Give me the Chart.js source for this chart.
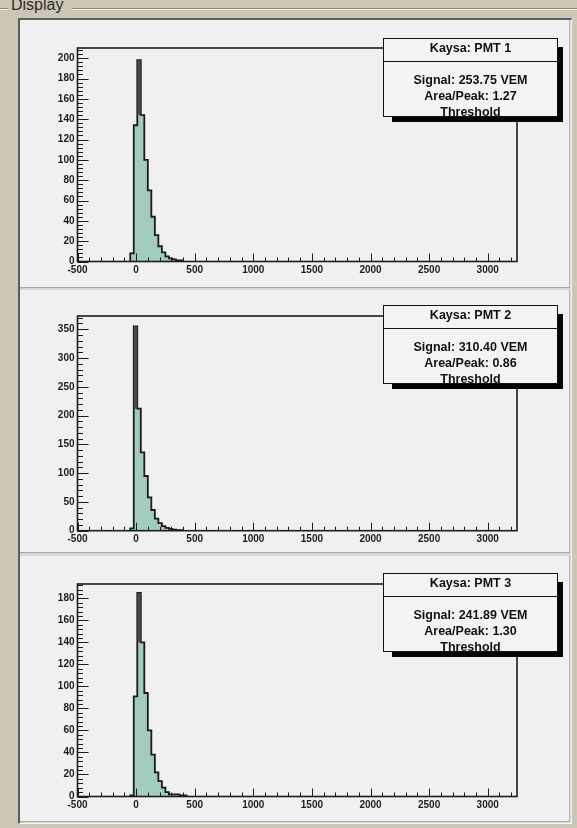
<!DOCTYPE html>
<html>
<head>
<meta charset="utf-8">
<script src="https://cdn.jsdelivr.net/npm/chart.js@4.4.0/dist/chart.umd.min.js"></script>
<style>
html,body{margin:0;padding:0;}
body{width:577px;height:828px;background:#cdc6b6;position:relative;overflow:hidden;font-family:"Liberation Sans",Arial,sans-serif;}
#groupTitle{position:absolute;left:9px;top:-5px;font-size:16px;color:#2b2b2b;background:#cdc6b6;padding:0 2px;line-height:20px;z-index:2;}
.groupline{position:absolute;top:8px;height:0;border-top:1px solid #8e8778;border-bottom:1px solid #f3efe6;}
#frame{position:absolute;left:18px;top:18px;width:554px;height:806px;background:#d6d6d6;border-top:2px solid #5c5c5c;border-left:2px solid #5c5c5c;border-right:1px solid #f6f6f6;border-bottom:1px solid #f6f6f6;box-sizing:border-box;}
.panel{position:absolute;left:20px;width:550px;background:#f0f0f0;border-bottom:1px solid #a8a8a8;border-right:1px solid #b8b8b8;box-sizing:border-box;overflow:hidden;}
.panel canvas{position:absolute;left:0;top:0;}
.shadow{position:absolute;background:#050505;}
.stats{position:absolute;width:175px;height:79px;background:#f3f3f3;border:1px solid #111;box-sizing:border-box;overflow:hidden;color:#111;font-weight:bold;font-size:12.5px;text-align:center;}
.stats .ttl{height:22px;line-height:19px;border-bottom:1px solid #111;}
.stats .body{padding-top:10px;}
.stats .body div{line-height:16px;}
</style>
</head>
<body>
<div class="groupline" style="left:0;width:8px"></div>
<div class="groupline" style="left:72px;width:505px"></div>
<div id="groupTitle">Display</div>
<div id="frame"></div>
<div id="panels"></div>
<script>
// ---------- data ----------
const binStart = -50;
const binWidth = 30;
const pmt1Counts = [8, 134, 198, 144, 100, 70, 44, 26, 15, 9, 5, 3, 2, 1, 1];
const pmt2Counts = [4, 355, 212, 136, 95, 58, 36, 21, 13, 8, 5, 3, 2, 1, 1];
const pmt3Counts = [1, 91, 185, 140, 94, 60, 38, 22, 14, 8, 4, 2, 2, 2, 1, 1];

const xRange = [-500, 3250];
const xTickValues = [-500, 0, 500, 1000, 1500, 2000, 2500, 3000];
const yMaxes = [210, 373, 193];
const yTickValues = [
  [0, 20, 40, 60, 80, 100, 120, 140, 160, 180, 200],
  [0, 50, 100, 150, 200, 250, 300, 350],
  [0, 20, 40, 60, 80, 100, 120, 140, 160, 180]
];

const titles = ["Kaysa: PMT 1", "Kaysa: PMT 2", "Kaysa: PMT 3"];
const signals = ["253.75", "310.40", "241.89"];
const areaPeak = ["1.27", "0.86", "1.30"];
const statsFooter = "Threshold";

// ---------- layout (page pixels) ----------
const panelTops = [20, 290, 556];
const panelHeights = [268, 263, 266];
const frameTopRel = [28, 26, 28];
const axisRel = [241.5, 240.7, 240.5];
const statsTopRel = [18, 15, 17];

const countsList = [pmt1Counts, pmt2Counts, pmt3Counts];

function histPoints(counts) {
  const pts = [{x: binStart, y: 0}];
  counts.forEach((c, i) => pts.push({x: binStart + i * binWidth, y: c}));
  pts.push({x: binStart + counts.length * binWidth, y: 0});
  return pts;
}
function peakShade(counts) {
  let k = 0;
  counts.forEach((c, i) => { if (c > counts[k]) k = i; });
  const floor = Math.max(counts[k - 1] || 0, counts[k + 1] || 0);
  return {pts: [{x: binStart + k * binWidth, y: counts[k]}, {x: binStart + (k + 1) * binWidth, y: counts[k]}], floor};
}

function drawTicks(ctx, a, scale, values, horizontal, majorLen, minorLen) {
  const nMinor = 5;
  const step = values[1] - values[0];
  const minor = step / nMinor;
  const lo = horizontal ? scale.min : 0;
  const start = values[0] - Math.floor((values[0] - lo) / minor + 1e-9) * minor;
  for (let i = 0; start + i * minor <= scale.max + 1e-9; i++) {
    const v = start + i * minor;
    const isMajor = Math.abs(((v - values[0]) / step) - Math.round((v - values[0]) / step)) < 1e-6;
    const len = isMajor ? majorLen : minorLen;
    ctx.beginPath();
    if (horizontal) {
      const px = Math.round(scale.getPixelForValue(v)) + 0.5;
      ctx.moveTo(px, a.bottom); ctx.lineTo(px, a.bottom - len);
    } else {
      const py = Math.round(scale.getPixelForValue(v)) + 0.5;
      ctx.moveTo(a.left, py); ctx.lineTo(a.left + len, py);
    }
    ctx.stroke();
  }
}

const rootAxes = {
  id: 'rootAxes',
  afterDatasetsDraw(chart) {
    const {ctx, chartArea: a, scales: {x, y}} = chart;
    ctx.save();
    ctx.strokeStyle = '#1c1c1c';
    ctx.lineWidth = 1;
    drawTicks(ctx, a, y, y.ticks.map(t => t.value), false, 11, 5.5);
    drawTicks(ctx, a, x, x.ticks.map(t => t.value), true, 8, 4);
    ctx.lineWidth = 1.6;
    ctx.strokeRect(a.left, a.top, a.right - a.left, a.bottom - a.top);
    ctx.restore();
  }
};

const tickFont = {family: '"Liberation Sans", Arial, sans-serif', size: 10, weight: 'bold'};

const container = document.getElementById('panels');
for (let p = 0; p < 3; p++) {
  const panel = document.createElement('div');
  panel.className = 'panel';
  panel.style.top = panelTops[p] + 'px';
  panel.style.height = panelHeights[p] + 'px';
  const canvas = document.createElement('canvas');
  canvas.width = 550; canvas.height = panelHeights[p];
  canvas.style.width = '550px'; canvas.style.height = panelHeights[p] + 'px';
  panel.appendChild(canvas);

  const shadow = document.createElement('div');
  shadow.className = 'shadow';
  shadow.style.left = (363 + 9) + 'px';
  shadow.style.top = (statsTopRel[p] + 9) + 'px';
  shadow.style.width = (175 - 4) + 'px';
  shadow.style.height = (79 - 4) + 'px';
  panel.appendChild(shadow);

  const stats = document.createElement('div');
  stats.className = 'stats';
  stats.style.left = '363px';
  stats.style.top = statsTopRel[p] + 'px';
  stats.innerHTML = '<div class="ttl">' + titles[p] + '</div><div class="body"><div>Signal: ' + signals[p] +
    ' VEM</div><div>Area/Peak: ' + areaPeak[p] + '</div><div>' + statsFooter + '</div></div>';
  panel.appendChild(stats);
  container.appendChild(panel);

  const counts = countsList[p];
  const shade = peakShade(counts);
  const xAxisH = 20;
  const yVals = yTickValues[p];
  new Chart(canvas, {
    type: 'line',
    data: {
      datasets: [
        {
          data: shade.pts, stepped: true, borderWidth: 0, pointRadius: 0,
          backgroundColor: '#4b4b4b', fill: {value: shade.floor}, order: -1
        },
        {
          data: histPoints(counts), stepped: true, borderColor: '#1a1a1a', borderWidth: 1.8,
          pointRadius: 0, backgroundColor: '#a2ccbc', fill: 'origin', order: 0
        }
      ]
    },
    options: {
      responsive: false, animation: false, devicePixelRatio: 1,
      layout: {padding: {left: 37.5, right: 53, top: frameTopRel[p], bottom: panelHeights[p] - axisRel[p] - xAxisH}},
      plugins: {legend: {display: false}, tooltip: {enabled: false}, title: {display: false}},
      scales: {
        x: {
          type: 'linear', min: xRange[0], max: xRange[1],
          grid: {display: false, drawTicks: false}, border: {display: false},
          ticks: {autoSkip: false, maxRotation: 0, padding: 3,
                  font: tickFont, color: '#1c1c1c', callback: v => String(v)},
          afterBuildTicks: s => { s.ticks = xTickValues.map(v => ({value: v})); },
          afterFit: s => { s.height = xAxisH; }
        },
        y: {
          type: 'linear', min: 0, max: yMaxes[p],
          grid: {display: false, drawTicks: false}, border: {display: false},
          ticks: {autoSkip: false, padding: 3,
                  font: tickFont, color: '#1c1c1c', callback: v => String(v)},
          afterBuildTicks: s => { s.ticks = yVals.map(v => ({value: v})); },
          afterFit: s => { s.width = 20; }
        }
      }
    },
    plugins: [rootAxes]
  });
}
</script>
</body>
</html>
